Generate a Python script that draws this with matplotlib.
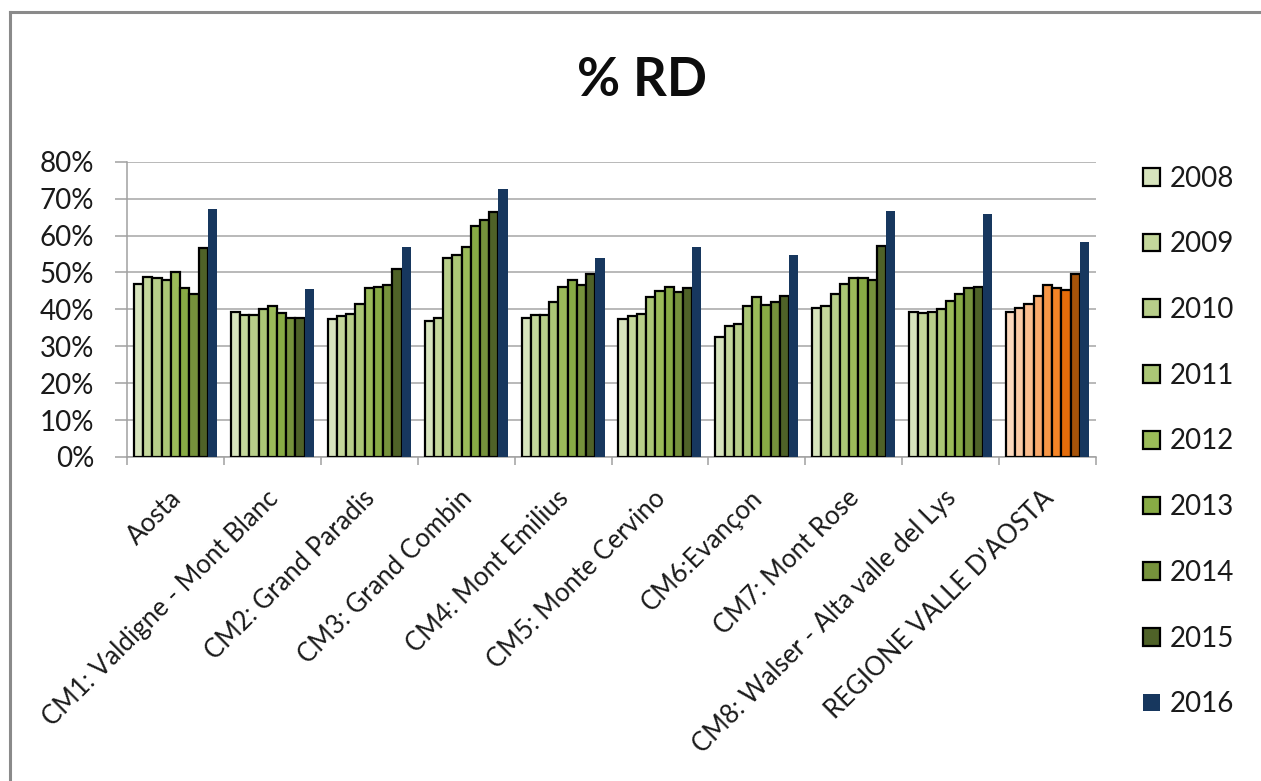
import matplotlib
matplotlib.use("Agg")
import matplotlib.pyplot as plt
import matplotlib.transforms as mtransforms
from matplotlib.lines import Line2D
from matplotlib.ticker import FuncFormatter
import numpy as np

plt.rcParams['font.family'] = ['Lato', 'DejaVu Sans']

categories = [
    "Aosta",
    "CM1: Valdigne - Mont Blanc",
    "CM2: Grand Paradis",
    "CM3: Grand Combin",
    "CM4: Mont Emilius",
    "CM5: Monte Cervino",
    "CM6:Evançon",
    "CM7: Mont Rose",
    "CM8: Walser - Alta valle del Lys",
    "REGIONE VALLE D'AOSTA",
]
years = ["2008", "2009", "2010", "2011", "2012", "2013", "2014", "2015", "2016"]

# percentage of separate collection (RD) per area and year
rd_2008 = [47.0, 39.2, 37.3, 36.9, 37.7, 37.3, 32.5, 40.5, 39.3, 39.3]
rd_2009 = [48.8, 38.6, 38.2, 37.7, 38.6, 38.2, 35.4, 41.0, 38.9, 40.5]
rd_2010 = [48.4, 38.6, 38.7, 54.0, 38.6, 38.7, 35.9, 44.1, 39.2, 41.4]
rd_2011 = [47.9, 40.1, 41.4, 54.7, 42.0, 43.4, 41.0, 47.0, 40.0, 43.7]
rd_2012 = [50.2, 41.0, 45.7, 56.8, 46.1, 45.0, 43.4, 48.4, 42.2, 46.6]
rd_2013 = [45.7, 39.1, 46.1, 62.6, 47.9, 46.1, 41.3, 48.4, 44.1, 45.7]
rd_2014 = [44.1, 37.7, 46.6, 64.2, 46.6, 44.8, 42.0, 47.9, 45.7, 45.2]
rd_2015 = [56.7, 37.7, 50.8, 66.5, 49.7, 45.7, 43.7, 57.1, 46.1, 49.7]
rd_2016 = [67.2, 45.5, 57.0, 72.7, 53.8, 57.0, 54.7, 66.7, 65.8, 58.3]
series = [rd_2008, rd_2009, rd_2010, rd_2011, rd_2012, rd_2013, rd_2014, rd_2015, rd_2016]

green_shades = ['#d7e4bd', '#c4d79b', '#b8ce8a', '#abc676', '#9bbb59',
                '#88ab45', '#76923c', '#4f6228', '#17375e']
orange_shades = ['#fdd9bd', '#fccba6', '#fbbd8e', '#f9a96c', '#f79646',
                 '#f58426', '#e46c0a', '#a65309', '#17375e']

W, H = 1261, 781
fig = plt.figure(figsize=(W / 100, H / 100), dpi=100)
ax = fig.add_axes([127 / W, 1 - 457 / H, (1096 - 127) / W, (457 - 161.7) / H])

x = np.arange(len(categories))
n = len(series)
bw = 1 / (n + 1.5)
handles = []
for i, (vals, yr) in enumerate(zip(series, years)):
    cols = [green_shades[i]] * (len(categories) - 1) + [orange_shades[i]]
    last = i == n - 1
    ax.bar(x + (i - (n - 1) / 2) * bw, vals, width=bw, color=cols,
           edgecolor='none' if last else 'black', linewidth=0 if last else 1.6,
           zorder=3)
    handles.append(plt.Rectangle((0, 0), 1, 1, facecolor=green_shades[i],
                                 edgecolor='none' if last else 'black',
                                 linewidth=0 if last else 1.6))

ax.set_xlim(-0.5, len(categories) - 0.5)
ax.set_ylim(0, 80)
ax.set_yticks(np.arange(0, 81, 10))
ax.yaxis.set_major_formatter(FuncFormatter(lambda v, p: f"{v:.0f}%"))
ax.grid(axis='y', color='#a6a6a6', linewidth=1.1, zorder=0)
for s in ['top', 'right']:
    ax.spines[s].set_visible(False)
for s in ['left', 'bottom']:
    ax.spines[s].set_color('#a0a0a0')
    ax.spines[s].set_linewidth(1.1)

ax.tick_params(axis='y', direction='out', length=8.6, width=1.1, color='#a0a0a0',
               pad=15, labelsize=20, labelcolor='#1a1a1a')

ax.set_xticks(x)
ax.set_xticklabels(categories, rotation=45, ha='right', va='center',
                   rotation_mode='anchor', fontsize=18.5, color='#1a1a1a')
ax.tick_params(axis='x', which='major', length=0, pad=27)
ax.set_xticks(np.arange(-0.5, len(categories), 1), minor=True)
ax.tick_params(axis='x', which='minor', direction='out', length=6, width=1.1,
               color='#a0a0a0')
shift = mtransforms.ScaledTranslation(2 / 100, 0, fig.dpi_scale_trans)
for lab in ax.get_xticklabels():
    lab.set_transform(lab.get_transform() + shift)

fig.text(642 / W, 1 - 81 / H, "% RD", ha='center', va='center',
         fontsize=38, fontweight='bold', color='#0d0d0d')

fig.legend(handles, years, loc='center left', bbox_to_anchor=(1129 / W, 1 - 441.5 / H),
           frameon=False, fontsize=20, labelspacing=1.43, handlelength=0.6,
           handleheight=0.6, handletextpad=0.35, borderpad=0, labelcolor='#1a1a1a')

# outer chart frame (top and left edges)
fig.add_artist(Line2D([10 / W, 1], [1 - 12 / H, 1 - 12 / H], color='#8a8a8a',
                      linewidth=2.2, transform=fig.transFigure))
fig.add_artist(Line2D([10 / W, 10 / W], [0, 1 - 12 / H], color='#8a8a8a',
                      linewidth=2.2, transform=fig.transFigure))

fig.savefig("out.png", dpi=100)
